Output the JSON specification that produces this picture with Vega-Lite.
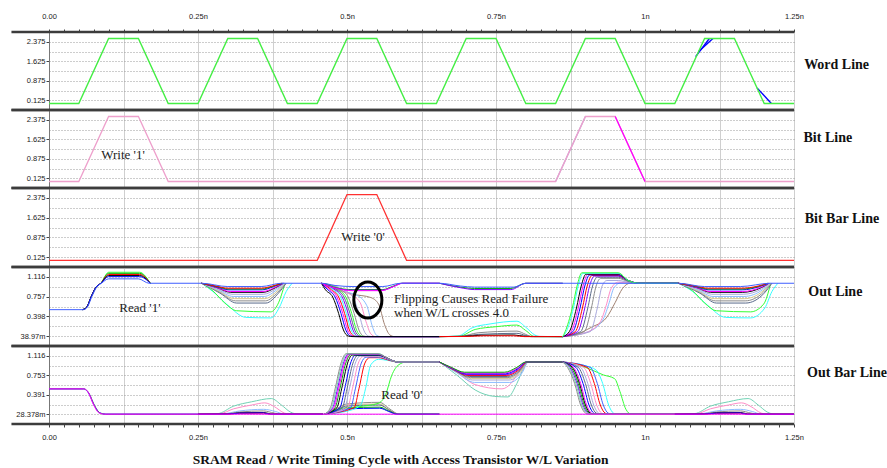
{
"$schema":"https://vega.github.io/schema/vega-lite/v6.json",
"padding":{"left":10,"top":12,"right":5,"bottom":5},
"background":"white",
"spacing":0,
"bounds":"flush",
"title":{"text":"SRAM Read / Write Timing Cycle with Access Transistor W/L Variation","orient":"bottom","anchor":"middle","font":"Liberation Serif","fontSize":13.5,"fontWeight":"bold","color":"#111","offset":12,"dx":-48},
"config":{
 "view":{"stroke":null},
 "axis":{"labelFont":"Liberation Sans","labelFontSize":7.5,"labelColor":"#1a1a1a","labelOverlap":false,"labelFlush":false,"tickColor":"#444","domainColor":"#777"},
 "axisY":{"tickSize":3,"labelPadding":1,"gridDash":[1,2],"gridColor":"#9a9a9a","domain":true},
 "axisX":{"gridColor":"#cfcfcf"}
},
"datasets":{
"wl":[
{"r":"a","w":1,"t":1.085,"v":1.8},{"r":"a","w":1,"t":1.108,"v":2.5},
{"r":"a","w":2,"t":1.09,"v":2.0},{"r":"a","w":2,"t":1.114,"v":2.5},
{"r":"a","w":3,"t":1.188,"v":0.6},{"r":"a","w":3,"t":1.212,"v":0},
{"r":"w","w":0,"t":0,"v":0},{"r":"w","w":0,"t":0.05,"v":0},{"r":"w","w":0,"t":0.1,"v":2.5},{"r":"w","w":0,"t":0.15,"v":2.5},{"r":"w","w":0,"t":0.2,"v":0},{"r":"w","w":0,"t":0.25,"v":0},{"r":"w","w":0,"t":0.3,"v":2.5},{"r":"w","w":0,"t":0.35,"v":2.5},{"r":"w","w":0,"t":0.4,"v":0},{"r":"w","w":0,"t":0.45,"v":0},{"r":"w","w":0,"t":0.5,"v":2.5},{"r":"w","w":0,"t":0.55,"v":2.5},{"r":"w","w":0,"t":0.6,"v":0},{"r":"w","w":0,"t":0.65,"v":0},{"r":"w","w":0,"t":0.7,"v":2.5},{"r":"w","w":0,"t":0.75,"v":2.5},{"r":"w","w":0,"t":0.8,"v":0},{"r":"w","w":0,"t":0.85,"v":0},{"r":"w","w":0,"t":0.9,"v":2.5},{"r":"w","w":0,"t":0.95,"v":2.5},{"r":"w","w":0,"t":1.0,"v":0},{"r":"w","w":0,"t":1.05,"v":0},{"r":"w","w":0,"t":1.1,"v":2.5},{"r":"w","w":0,"t":1.15,"v":2.5},{"r":"w","w":0,"t":1.2,"v":0},{"r":"w","w":0,"t":1.25,"v":0}
],
"bl":[
{"r":"h","w":1,"t":0.85,"v":0},{"r":"h","w":1,"t":0.9,"v":2.5},
{"r":"s","w":0,"t":0,"v":0},{"r":"s","w":0,"t":0.05,"v":0},{"r":"s","w":0,"t":0.1,"v":2.5},{"r":"s","w":0,"t":0.15,"v":2.5},{"r":"s","w":0,"t":0.2,"v":0},{"r":"s","w":0,"t":0.85,"v":0},{"r":"s","w":0,"t":0.9,"v":2.5},{"r":"s","w":0,"t":0.95,"v":2.5},{"r":"s","w":0,"t":1.0,"v":0},{"r":"s","w":0,"t":1.25,"v":0},
{"r":"d","w":2,"t":0.95,"v":2.5},{"r":"d","w":2,"t":1.0,"v":0}
],
"blb":[
{"r":"u","w":0,"t":0,"v":0},{"r":"u","w":0,"t":0.45,"v":0},{"r":"u","w":0,"t":0.5,"v":2.5},{"r":"u","w":0,"t":0.55,"v":2.5},{"r":"u","w":0,"t":0.6,"v":0},{"r":"u","w":0,"t":1.25,"v":0}
],
"out":[
{"r":"k","w":1,"t":0.056,"v":0.52},{"r":"k","w":1,"t":0.063,"v":0.56},{"r":"k","w":1,"t":0.071,"v":0.76},{"r":"k","w":1,"t":0.079,"v":0.93},{"r":"k","w":1,"t":0.087,"v":1},{"r":"k","w":1,"t":0.1,"v":1.2},{"r":"k","w":1,"t":0.152,"v":1.2},{"r":"k","w":1,"t":0.17,"v":1},
{"r":"b","w":1,"t":0.056,"v":0.52},{"r":"b","w":1,"t":0.063,"v":0.56},{"r":"b","w":1,"t":0.071,"v":0.76},{"r":"b","w":1,"t":0.079,"v":0.93},{"r":"b","w":1,"t":0.087,"v":1},{"r":"b","w":1,"t":0.1,"v":1.18},{"r":"b","w":1,"t":0.152,"v":1.18},{"r":"b","w":1,"t":0.17,"v":1},
{"r":"c","w":1,"t":0.056,"v":0.52},{"r":"c","w":1,"t":0.063,"v":0.56},{"r":"c","w":1,"t":0.071,"v":0.76},{"r":"c","w":1,"t":0.079,"v":0.93},{"r":"c","w":1,"t":0.087,"v":1},{"r":"c","w":1,"t":0.1,"v":1.16},{"r":"c","w":1,"t":0.152,"v":1.16},{"r":"c","w":1,"t":0.17,"v":1},
{"r":"f","w":1,"t":0.056,"v":0.52},{"r":"f","w":1,"t":0.063,"v":0.56},{"r":"f","w":1,"t":0.071,"v":0.76},{"r":"f","w":1,"t":0.079,"v":0.93},{"r":"f","w":1,"t":0.087,"v":1},{"r":"f","w":1,"t":0.1,"v":1.14},{"r":"f","w":1,"t":0.152,"v":1.14},{"r":"f","w":1,"t":0.17,"v":1},
{"r":"a","w":1,"t":0.056,"v":0.52},{"r":"a","w":1,"t":0.063,"v":0.56},{"r":"a","w":1,"t":0.071,"v":0.76},{"r":"a","w":1,"t":0.079,"v":0.93},{"r":"a","w":1,"t":0.087,"v":1},{"r":"a","w":1,"t":0.1,"v":1.12},{"r":"a","w":1,"t":0.152,"v":1.12},{"r":"a","w":1,"t":0.17,"v":1},

{"r":"l","w":2,"t":0.256,"v":1},{"r":"l","w":2,"t":0.275,"v":0.85},{"r":"l","w":2,"t":0.3,"v":0.6},{"r":"l","w":2,"t":0.33,"v":0.38},{"r":"l","w":2,"t":0.372,"v":0.37},{"r":"l","w":2,"t":0.386,"v":0.55},{"r":"l","w":2,"t":0.398,"v":0.85},{"r":"l","w":2,"t":0.408,"v":1},
{"r":"k","w":2,"t":0.256,"v":1},{"r":"k","w":2,"t":0.275,"v":0.86},{"r":"k","w":2,"t":0.295,"v":0.64},{"r":"k","w":2,"t":0.315,"v":0.5},{"r":"k","w":2,"t":0.372,"v":0.48},{"r":"k","w":2,"t":0.384,"v":0.62},{"r":"k","w":2,"t":0.396,"v":1},
{"r":"j","w":2,"t":0.256,"v":1},{"r":"j","w":2,"t":0.287,"v":0.82},{"r":"j","w":2,"t":0.315,"v":0.64},{"r":"j","w":2,"t":0.364,"v":0.64},{"r":"j","w":2,"t":0.385,"v":0.82},{"r":"j","w":2,"t":0.398,"v":1},
{"r":"g","w":2,"t":0.256,"v":1},{"r":"g","w":2,"t":0.286,"v":0.84},{"r":"g","w":2,"t":0.313,"v":0.68},{"r":"g","w":2,"t":0.363,"v":0.68},{"r":"g","w":2,"t":0.384,"v":0.84},{"r":"g","w":2,"t":0.397,"v":1},
{"r":"i","w":2,"t":0.256,"v":1},{"r":"i","w":2,"t":0.285,"v":0.86},{"r":"i","w":2,"t":0.311,"v":0.72},{"r":"i","w":2,"t":0.362,"v":0.72},{"r":"i","w":2,"t":0.383,"v":0.86},{"r":"i","w":2,"t":0.396,"v":1},
{"r":"p","w":2,"t":0.256,"v":1},{"r":"p","w":2,"t":0.284,"v":0.88},{"r":"p","w":2,"t":0.309,"v":0.76},{"r":"p","w":2,"t":0.361,"v":0.76},{"r":"p","w":2,"t":0.382,"v":0.88},{"r":"p","w":2,"t":0.395,"v":1},
{"r":"h","w":2,"t":0.256,"v":1},{"r":"h","w":2,"t":0.283,"v":0.9},{"r":"h","w":2,"t":0.307,"v":0.8},{"r":"h","w":2,"t":0.36,"v":0.8},{"r":"h","w":2,"t":0.381,"v":0.9},{"r":"h","w":2,"t":0.394,"v":1},
{"r":"f","w":2,"t":0.256,"v":1},{"r":"f","w":2,"t":0.282,"v":0.92},{"r":"f","w":2,"t":0.305,"v":0.835},{"r":"f","w":2,"t":0.359,"v":0.835},{"r":"f","w":2,"t":0.38,"v":0.92},{"r":"f","w":2,"t":0.393,"v":1},
{"r":"d","w":2,"t":0.256,"v":1},{"r":"d","w":2,"t":0.281,"v":0.925},{"r":"d","w":2,"t":0.304,"v":0.85},{"r":"d","w":2,"t":0.359,"v":0.85},{"r":"d","w":2,"t":0.379,"v":0.925},{"r":"d","w":2,"t":0.393,"v":1},
{"r":"a","w":2,"t":0.256,"v":1},{"r":"a","w":2,"t":0.28,"v":0.94},{"r":"a","w":2,"t":0.302,"v":0.88},{"r":"a","w":2,"t":0.358,"v":0.88},{"r":"a","w":2,"t":0.377,"v":0.94},{"r":"a","w":2,"t":0.392,"v":1},
{"r":"b","w":2,"t":0.256,"v":1},{"r":"b","w":2,"t":0.28,"v":0.945},{"r":"b","w":2,"t":0.301,"v":0.895},{"r":"b","w":2,"t":0.357,"v":0.895},{"r":"b","w":2,"t":0.376,"v":0.945},{"r":"b","w":2,"t":0.391,"v":1},
{"r":"c","w":2,"t":0.256,"v":1},{"r":"c","w":2,"t":0.28,"v":0.95},{"r":"c","w":2,"t":0.3,"v":0.91},{"r":"c","w":2,"t":0.356,"v":0.91},{"r":"c","w":2,"t":0.375,"v":0.95},{"r":"c","w":2,"t":0.39,"v":1},

{"r":"m","w":3,"t":0.457,"v":1},{"r":"m","w":3,"t":0.48,"v":0.9},{"r":"m","w":3,"t":0.51,"v":0.8},{"r":"m","w":3,"t":0.54,"v":0.74},{"r":"m","w":3,"t":0.553,"v":0.62},{"r":"m","w":3,"t":0.563,"v":0.25},{"r":"m","w":3,"t":0.572,"v":0.06},{"r":"m","w":3,"t":0.58,"v":0.03},{"r":"m","w":3,"t":0.655,"v":0.03},
{"r":"p","w":3,"t":0.457,"v":1},{"r":"p","w":3,"t":0.48,"v":0.88},{"r":"p","w":3,"t":0.515,"v":0.79},{"r":"p","w":3,"t":0.533,"v":0.6},{"r":"p","w":3,"t":0.543,"v":0.2},{"r":"p","w":3,"t":0.55,"v":0.05},{"r":"p","w":3,"t":0.557,"v":0.03},{"r":"p","w":3,"t":0.655,"v":0.03},
{"r":"n","w":3,"t":0.457,"v":1},{"r":"n","w":3,"t":0.475,"v":0.9},{"r":"n","w":3,"t":0.505,"v":0.8},{"r":"n","w":3,"t":0.522,"v":0.65},{"r":"n","w":3,"t":0.532,"v":0.3},{"r":"n","w":3,"t":0.54,"v":0.08},{"r":"n","w":3,"t":0.548,"v":0.03},{"r":"n","w":3,"t":0.655,"v":0.03},
{"r":"h","w":3,"t":0.457,"v":1},{"r":"h","w":3,"t":0.498,"v":0.86},{"r":"h","w":3,"t":0.51,"v":0.75},{"r":"h","w":3,"t":0.52,"v":0.45},{"r":"h","w":3,"t":0.528,"v":0.15},{"r":"h","w":3,"t":0.536,"v":0.04},{"r":"h","w":3,"t":0.544,"v":0.03},{"r":"h","w":3,"t":0.655,"v":0.03},
{"r":"g","w":3,"t":0.457,"v":1},{"r":"g","w":3,"t":0.49,"v":0.88},{"r":"g","w":3,"t":0.502,"v":0.75},{"r":"g","w":3,"t":0.512,"v":0.45},{"r":"g","w":3,"t":0.52,"v":0.15},{"r":"g","w":3,"t":0.528,"v":0.04},{"r":"g","w":3,"t":0.536,"v":0.03},{"r":"g","w":3,"t":0.655,"v":0.03},
{"r":"k","w":3,"t":0.457,"v":1},{"r":"k","w":3,"t":0.486,"v":0.88},{"r":"k","w":3,"t":0.498,"v":0.75},{"r":"k","w":3,"t":0.508,"v":0.45},{"r":"k","w":3,"t":0.516,"v":0.15},{"r":"k","w":3,"t":0.524,"v":0.04},{"r":"k","w":3,"t":0.532,"v":0.03},{"r":"k","w":3,"t":0.655,"v":0.03},
{"r":"j","w":3,"t":0.457,"v":1},{"r":"j","w":3,"t":0.483,"v":0.88},{"r":"j","w":3,"t":0.495,"v":0.75},{"r":"j","w":3,"t":0.505,"v":0.45},{"r":"j","w":3,"t":0.513,"v":0.15},{"r":"j","w":3,"t":0.521,"v":0.04},{"r":"j","w":3,"t":0.529,"v":0.03},{"r":"j","w":3,"t":0.655,"v":0.03},
{"r":"e","w":3,"t":0.457,"v":1},{"r":"e","w":3,"t":0.48,"v":0.88},{"r":"e","w":3,"t":0.492,"v":0.75},{"r":"e","w":3,"t":0.502,"v":0.45},{"r":"e","w":3,"t":0.51,"v":0.15},{"r":"e","w":3,"t":0.518,"v":0.04},{"r":"e","w":3,"t":0.526,"v":0.03},{"r":"e","w":3,"t":0.655,"v":0.03},
{"r":"l","w":3,"t":0.457,"v":1},{"r":"l","w":3,"t":0.477,"v":0.88},{"r":"l","w":3,"t":0.489,"v":0.75},{"r":"l","w":3,"t":0.499,"v":0.45},{"r":"l","w":3,"t":0.507,"v":0.15},{"r":"l","w":3,"t":0.515,"v":0.04},{"r":"l","w":3,"t":0.523,"v":0.03},{"r":"l","w":3,"t":0.655,"v":0.03},
{"r":"c","w":3,"t":0.457,"v":1},{"r":"c","w":3,"t":0.474,"v":0.88},{"r":"c","w":3,"t":0.486,"v":0.75},{"r":"c","w":3,"t":0.496,"v":0.45},{"r":"c","w":3,"t":0.504,"v":0.15},{"r":"c","w":3,"t":0.512,"v":0.04},{"r":"c","w":3,"t":0.52,"v":0.03},{"r":"c","w":3,"t":0.655,"v":0.03},
{"r":"d","w":3,"t":0.457,"v":1},{"r":"d","w":3,"t":0.471,"v":0.88},{"r":"d","w":3,"t":0.483,"v":0.75},{"r":"d","w":3,"t":0.493,"v":0.45},{"r":"d","w":3,"t":0.501,"v":0.15},{"r":"d","w":3,"t":0.509,"v":0.04},{"r":"d","w":3,"t":0.517,"v":0.03},{"r":"d","w":3,"t":0.655,"v":0.03},
{"r":"a","w":3,"t":0.457,"v":1},{"r":"a","w":3,"t":0.468,"v":0.88},{"r":"a","w":3,"t":0.48,"v":0.75},{"r":"a","w":3,"t":0.49,"v":0.45},{"r":"a","w":3,"t":0.498,"v":0.15},{"r":"a","w":3,"t":0.506,"v":0.04},{"r":"a","w":3,"t":0.514,"v":0.03},{"r":"a","w":3,"t":0.655,"v":0.03},
{"r":"f","w":3,"t":0.457,"v":1},{"r":"f","w":3,"t":0.464,"v":0.88},{"r":"f","w":3,"t":0.476,"v":0.75},{"r":"f","w":3,"t":0.486,"v":0.45},{"r":"f","w":3,"t":0.494,"v":0.15},{"r":"f","w":3,"t":0.502,"v":0.04},{"r":"f","w":3,"t":0.51,"v":0.03},{"r":"f","w":3,"t":0.655,"v":0.03},
{"r":"b","w":7,"t":0.457,"v":1},{"r":"b","w":7,"t":0.48,"v":0.92},{"r":"b","w":7,"t":0.51,"v":0.885},{"r":"b","w":7,"t":0.56,"v":0.885},{"r":"b","w":7,"t":0.578,"v":0.95},{"r":"b","w":7,"t":0.592,"v":1},{"r":"b","w":7,"t":0.655,"v":1},
{"r":"e","w":7,"t":0.457,"v":1},{"r":"e","w":7,"t":0.48,"v":0.915},{"r":"e","w":7,"t":0.51,"v":0.875},{"r":"e","w":7,"t":0.56,"v":0.875},{"r":"e","w":7,"t":0.579,"v":0.945},{"r":"e","w":7,"t":0.593,"v":1},{"r":"e","w":7,"t":0.655,"v":1},
{"r":"d","w":7,"t":0.457,"v":1},{"r":"d","w":7,"t":0.48,"v":0.91},{"r":"d","w":7,"t":0.51,"v":0.865},{"r":"d","w":7,"t":0.558,"v":0.865},{"r":"d","w":7,"t":0.578,"v":0.94},{"r":"d","w":7,"t":0.594,"v":1},{"r":"d","w":7,"t":0.655,"v":1},

{"r":"l","w":4,"t":0.655,"v":0.03},{"r":"l","w":4,"t":0.686,"v":0.04},{"r":"l","w":4,"t":0.71,"v":0.19},{"r":"l","w":4,"t":0.74,"v":0.26},{"r":"l","w":4,"t":0.785,"v":0.31},{"r":"l","w":4,"t":0.8,"v":0.2},{"r":"l","w":4,"t":0.815,"v":0.06},{"r":"l","w":4,"t":0.825,"v":0.03},{"r":"l","w":4,"t":0.862,"v":0.03},
{"r":"k","w":4,"t":0.655,"v":0.03},{"r":"k","w":4,"t":0.688,"v":0.035},{"r":"k","w":4,"t":0.715,"v":0.16},{"r":"k","w":4,"t":0.75,"v":0.21},{"r":"k","w":4,"t":0.785,"v":0.24},{"r":"k","w":4,"t":0.8,"v":0.14},{"r":"k","w":4,"t":0.815,"v":0.03},{"r":"k","w":4,"t":0.862,"v":0.03},
{"r":"g","w":4,"t":0.655,"v":0.03},{"r":"g","w":4,"t":0.69,"v":0.035},{"r":"g","w":4,"t":0.72,"v":0.1},{"r":"g","w":4,"t":0.785,"v":0.13},{"r":"g","w":4,"t":0.8,"v":0.07},{"r":"g","w":4,"t":0.81,"v":0.03},{"r":"g","w":4,"t":0.862,"v":0.03},
{"r":"j","w":4,"t":0.655,"v":0.03},{"r":"j","w":4,"t":0.692,"v":0.035},{"r":"j","w":4,"t":0.72,"v":0.07},{"r":"j","w":4,"t":0.785,"v":0.09},{"r":"j","w":4,"t":0.8,"v":0.05},{"r":"j","w":4,"t":0.808,"v":0.03},{"r":"j","w":4,"t":0.862,"v":0.03},
{"r":"f","w":4,"t":0.655,"v":0.03},{"r":"f","w":4,"t":0.695,"v":0.035},{"r":"f","w":4,"t":0.725,"v":0.055},{"r":"f","w":4,"t":0.78,"v":0.06},{"r":"f","w":4,"t":0.8,"v":0.035},{"r":"f","w":4,"t":0.862,"v":0.03},
{"r":"c","w":4,"t":0.655,"v":0.03},{"r":"c","w":4,"t":0.7,"v":0.033},{"r":"c","w":4,"t":0.73,"v":0.045},{"r":"c","w":4,"t":0.78,"v":0.045},{"r":"c","w":4,"t":0.798,"v":0.03},{"r":"c","w":4,"t":0.862,"v":0.03},
{"r":"b","w":8,"t":0.655,"v":1},{"r":"b","w":8,"t":0.69,"v":0.93},{"r":"b","w":8,"t":0.714,"v":0.905},{"r":"b","w":8,"t":0.775,"v":0.905},{"r":"b","w":8,"t":0.8,"v":1},{"r":"b","w":8,"t":0.862,"v":1},
{"r":"e","w":8,"t":0.655,"v":1},{"r":"e","w":8,"t":0.69,"v":0.92},{"r":"e","w":8,"t":0.714,"v":0.885},{"r":"e","w":8,"t":0.775,"v":0.885},{"r":"e","w":8,"t":0.8,"v":1},{"r":"e","w":8,"t":0.862,"v":1},

{"r":"m","w":5,"t":0.862,"v":0.03},{"r":"m","w":5,"t":0.882,"v":0.06},{"r":"m","w":5,"t":0.91,"v":0.2},{"r":"m","w":5,"t":0.935,"v":0.37},{"r":"m","w":5,"t":0.95,"v":0.65},{"r":"m","w":5,"t":0.962,"v":0.9},{"r":"m","w":5,"t":0.975,"v":1},{"r":"m","w":5,"t":1.056,"v":1},
{"r":"p","w":5,"t":0.862,"v":0.03},{"r":"p","w":5,"t":0.905,"v":0.12},{"r":"p","w":5,"t":0.93,"v":0.35},{"r":"p","w":5,"t":0.94,"v":0.65},{"r":"p","w":5,"t":0.948,"v":0.92},{"r":"p","w":5,"t":0.96,"v":1.01},{"r":"p","w":5,"t":0.99,"v":1},{"r":"p","w":5,"t":1.056,"v":1},
{"r":"n","w":5,"t":0.862,"v":0.03},{"r":"n","w":5,"t":0.9,"v":0.1},{"r":"n","w":5,"t":0.925,"v":0.3},{"r":"n","w":5,"t":0.935,"v":0.6},{"r":"n","w":5,"t":0.943,"v":0.9},{"r":"n","w":5,"t":0.955,"v":1.02},{"r":"n","w":5,"t":0.975,"v":1.01},{"r":"n","w":5,"t":0.99,"v":1},{"r":"n","w":5,"t":1.056,"v":1},
{"r":"h","w":5,"t":0.862,"v":0.03},{"r":"h","w":5,"t":0.908,"v":0.12},{"r":"h","w":5,"t":0.92,"v":0.55},{"r":"h","w":5,"t":0.928,"v":0.95},{"r":"h","w":5,"t":0.936,"v":1.05},{"r":"h","w":5,"t":0.955,"v":1.05},{"r":"h","w":5,"t":0.975,"v":1.01},{"r":"h","w":5,"t":0.99,"v":1},{"r":"h","w":5,"t":1.056,"v":1},
{"r":"g","w":5,"t":0.862,"v":0.03},{"r":"g","w":5,"t":0.898,"v":0.12},{"r":"g","w":5,"t":0.91,"v":0.55},{"r":"g","w":5,"t":0.918,"v":0.95},{"r":"g","w":5,"t":0.926,"v":1.09},{"r":"g","w":5,"t":0.955,"v":1.09},{"r":"g","w":5,"t":0.972,"v":1.03},{"r":"g","w":5,"t":0.99,"v":1},{"r":"g","w":5,"t":1.056,"v":1},
{"r":"j","w":5,"t":0.862,"v":0.03},{"r":"j","w":5,"t":0.892,"v":0.12},{"r":"j","w":5,"t":0.904,"v":0.55},{"r":"j","w":5,"t":0.912,"v":0.95},{"r":"j","w":5,"t":0.92,"v":1.11},{"r":"j","w":5,"t":0.955,"v":1.11},{"r":"j","w":5,"t":0.972,"v":1.04},{"r":"j","w":5,"t":0.99,"v":1},{"r":"j","w":5,"t":1.056,"v":1},
{"r":"e","w":5,"t":0.862,"v":0.03},{"r":"e","w":5,"t":0.887,"v":0.12},{"r":"e","w":5,"t":0.899,"v":0.55},{"r":"e","w":5,"t":0.907,"v":0.95},{"r":"e","w":5,"t":0.915,"v":1.13},{"r":"e","w":5,"t":0.955,"v":1.13},{"r":"e","w":5,"t":0.972,"v":1.05},{"r":"e","w":5,"t":0.99,"v":1},{"r":"e","w":5,"t":1.056,"v":1},
{"r":"c","w":5,"t":0.862,"v":0.03},{"r":"c","w":5,"t":0.883,"v":0.12},{"r":"c","w":5,"t":0.895,"v":0.55},{"r":"c","w":5,"t":0.903,"v":0.95},{"r":"c","w":5,"t":0.911,"v":1.14},{"r":"c","w":5,"t":0.955,"v":1.14},{"r":"c","w":5,"t":0.972,"v":1.05},{"r":"c","w":5,"t":0.99,"v":1},{"r":"c","w":5,"t":1.056,"v":1},
{"r":"a","w":5,"t":0.862,"v":0.03},{"r":"a","w":5,"t":0.879,"v":0.12},{"r":"a","w":5,"t":0.891,"v":0.55},{"r":"a","w":5,"t":0.899,"v":0.95},{"r":"a","w":5,"t":0.907,"v":1.15},{"r":"a","w":5,"t":0.955,"v":1.15},{"r":"a","w":5,"t":0.972,"v":1.05},{"r":"a","w":5,"t":0.99,"v":1},{"r":"a","w":5,"t":1.056,"v":1},
{"r":"d","w":5,"t":0.862,"v":0.03},{"r":"d","w":5,"t":0.876,"v":0.12},{"r":"d","w":5,"t":0.888,"v":0.55},{"r":"d","w":5,"t":0.896,"v":0.95},{"r":"d","w":5,"t":0.904,"v":1.16},{"r":"d","w":5,"t":0.955,"v":1.16},{"r":"d","w":5,"t":0.972,"v":1.05},{"r":"d","w":5,"t":0.99,"v":1},{"r":"d","w":5,"t":1.056,"v":1},
{"r":"f","w":5,"t":0.862,"v":0.03},{"r":"f","w":5,"t":0.873,"v":0.12},{"r":"f","w":5,"t":0.885,"v":0.55},{"r":"f","w":5,"t":0.893,"v":0.95},{"r":"f","w":5,"t":0.901,"v":1.165},{"r":"f","w":5,"t":0.955,"v":1.165},{"r":"f","w":5,"t":0.972,"v":1.05},{"r":"f","w":5,"t":0.99,"v":1},{"r":"f","w":5,"t":1.056,"v":1},
{"r":"l","w":5,"t":0.862,"v":0.03},{"r":"l","w":5,"t":0.868,"v":0.12},{"r":"l","w":5,"t":0.88,"v":0.55},{"r":"l","w":5,"t":0.888,"v":0.95},{"r":"l","w":5,"t":0.896,"v":1.18},{"r":"l","w":5,"t":0.955,"v":1.18},{"r":"l","w":5,"t":0.972,"v":1.05},{"r":"l","w":5,"t":0.99,"v":1},{"r":"l","w":5,"t":1.056,"v":1},
{"r":"k","w":5,"t":0.862,"v":0.03},{"r":"k","w":5,"t":0.866,"v":0.12},{"r":"k","w":5,"t":0.878,"v":0.55},{"r":"k","w":5,"t":0.886,"v":0.95},{"r":"k","w":5,"t":0.894,"v":1.19},{"r":"k","w":5,"t":0.955,"v":1.19},{"r":"k","w":5,"t":0.972,"v":1.05},{"r":"k","w":5,"t":0.99,"v":1},{"r":"k","w":5,"t":1.056,"v":1},

{"r":"l","w":6,"t":1.056,"v":1},{"r":"l","w":6,"t":1.08,"v":0.85},{"r":"l","w":6,"t":1.105,"v":0.6},{"r":"l","w":6,"t":1.135,"v":0.38},{"r":"l","w":6,"t":1.177,"v":0.37},{"r":"l","w":6,"t":1.201,"v":0.55},{"r":"l","w":6,"t":1.213,"v":0.85},{"r":"l","w":6,"t":1.223,"v":1},
{"r":"k","w":6,"t":1.056,"v":1},{"r":"k","w":6,"t":1.08,"v":0.86},{"r":"k","w":6,"t":1.1,"v":0.64},{"r":"k","w":6,"t":1.12,"v":0.5},{"r":"k","w":6,"t":1.177,"v":0.48},{"r":"k","w":6,"t":1.199,"v":0.62},{"r":"k","w":6,"t":1.211,"v":1},
{"r":"j","w":6,"t":1.056,"v":1},{"r":"j","w":6,"t":1.092,"v":0.82},{"r":"j","w":6,"t":1.12,"v":0.64},{"r":"j","w":6,"t":1.169,"v":0.64},{"r":"j","w":6,"t":1.2,"v":0.82},{"r":"j","w":6,"t":1.213,"v":1},
{"r":"g","w":6,"t":1.056,"v":1},{"r":"g","w":6,"t":1.091,"v":0.84},{"r":"g","w":6,"t":1.118,"v":0.68},{"r":"g","w":6,"t":1.168,"v":0.68},{"r":"g","w":6,"t":1.199,"v":0.84},{"r":"g","w":6,"t":1.212,"v":1},
{"r":"i","w":6,"t":1.056,"v":1},{"r":"i","w":6,"t":1.09,"v":0.86},{"r":"i","w":6,"t":1.116,"v":0.72},{"r":"i","w":6,"t":1.167,"v":0.72},{"r":"i","w":6,"t":1.198,"v":0.86},{"r":"i","w":6,"t":1.211,"v":1},
{"r":"p","w":6,"t":1.056,"v":1},{"r":"p","w":6,"t":1.089,"v":0.88},{"r":"p","w":6,"t":1.114,"v":0.76},{"r":"p","w":6,"t":1.166,"v":0.76},{"r":"p","w":6,"t":1.197,"v":0.88},{"r":"p","w":6,"t":1.21,"v":1},
{"r":"h","w":6,"t":1.056,"v":1},{"r":"h","w":6,"t":1.088,"v":0.9},{"r":"h","w":6,"t":1.112,"v":0.8},{"r":"h","w":6,"t":1.165,"v":0.8},{"r":"h","w":6,"t":1.196,"v":0.9},{"r":"h","w":6,"t":1.209,"v":1},
{"r":"f","w":6,"t":1.056,"v":1},{"r":"f","w":6,"t":1.087,"v":0.92},{"r":"f","w":6,"t":1.11,"v":0.835},{"r":"f","w":6,"t":1.164,"v":0.835},{"r":"f","w":6,"t":1.195,"v":0.92},{"r":"f","w":6,"t":1.208,"v":1},
{"r":"d","w":6,"t":1.056,"v":1},{"r":"d","w":6,"t":1.086,"v":0.925},{"r":"d","w":6,"t":1.109,"v":0.85},{"r":"d","w":6,"t":1.164,"v":0.85},{"r":"d","w":6,"t":1.194,"v":0.925},{"r":"d","w":6,"t":1.208,"v":1},
{"r":"a","w":6,"t":1.056,"v":1},{"r":"a","w":6,"t":1.085,"v":0.94},{"r":"a","w":6,"t":1.107,"v":0.88},{"r":"a","w":6,"t":1.163,"v":0.88},{"r":"a","w":6,"t":1.192,"v":0.94},{"r":"a","w":6,"t":1.207,"v":1},
{"r":"b","w":6,"t":1.056,"v":1},{"r":"b","w":6,"t":1.085,"v":0.945},{"r":"b","w":6,"t":1.106,"v":0.895},{"r":"b","w":6,"t":1.162,"v":0.895},{"r":"b","w":6,"t":1.191,"v":0.945},{"r":"b","w":6,"t":1.206,"v":1},
{"r":"c","w":6,"t":1.056,"v":1},{"r":"c","w":6,"t":1.085,"v":0.95},{"r":"c","w":6,"t":1.105,"v":0.91},{"r":"c","w":6,"t":1.161,"v":0.91},{"r":"c","w":6,"t":1.19,"v":0.95},{"r":"c","w":6,"t":1.205,"v":1},

{"r":"q","w":0,"t":0,"v":0.52},{"r":"q","w":0,"t":0.058,"v":0.52},{"r":"q","w":0,"t":0.064,"v":0.56},{"r":"q","w":0,"t":0.072,"v":0.76},{"r":"q","w":0,"t":0.08,"v":0.93},{"r":"q","w":0,"t":0.088,"v":1},{"r":"q","w":0,"t":0.1,"v":1.08},{"r":"q","w":0,"t":0.15,"v":1.08},{"r":"q","w":0,"t":0.168,"v":1},{"r":"q","w":0,"t":0.256,"v":1},{"r":"q","w":0,"t":0.3,"v":0.94},{"r":"q","w":0,"t":0.356,"v":0.94},{"r":"q","w":0,"t":0.39,"v":1},{"r":"q","w":0,"t":0.457,"v":1},{"r":"q","w":0,"t":0.48,"v":0.96},{"r":"q","w":0,"t":0.51,"v":0.94},{"r":"q","w":0,"t":0.56,"v":0.94},{"r":"q","w":0,"t":0.59,"v":1},{"r":"q","w":0,"t":0.655,"v":1},{"r":"q","w":0,"t":0.69,"v":0.95},{"r":"q","w":0,"t":0.714,"v":0.93},{"r":"q","w":0,"t":0.78,"v":0.93},{"r":"q","w":0,"t":0.8,"v":1},{"r":"q","w":0,"t":1.056,"v":1},{"r":"q","w":0,"t":1.1,"v":0.94},{"r":"q","w":0,"t":1.16,"v":0.94},{"r":"q","w":0,"t":1.21,"v":1},{"r":"q","w":0,"t":1.25,"v":1}
],
"outb":[
{"r":"a","w":1,"t":0,"v":0.5},{"r":"a","w":1,"t":0.058,"v":0.5},{"r":"a","w":1,"t":0.066,"v":0.43},{"r":"a","w":1,"t":0.076,"v":0.19},{"r":"a","w":1,"t":0.085,"v":0.055},{"r":"a","w":1,"t":0.095,"v":0.03},{"r":"a","w":1,"t":0.25,"v":0.03},
{"r":"j","w":1,"t":0,"v":0.5},{"r":"j","w":1,"t":0.059,"v":0.5},{"r":"j","w":1,"t":0.067,"v":0.42},{"r":"j","w":1,"t":0.077,"v":0.18},{"r":"j","w":1,"t":0.086,"v":0.05},{"r":"j","w":1,"t":0.096,"v":0.03},{"r":"j","w":1,"t":0.25,"v":0.03},

{"r":"o","w":2,"t":0.25,"v":0.03},{"r":"o","w":2,"t":0.283,"v":0.04},{"r":"o","w":2,"t":0.31,"v":0.18},{"r":"o","w":2,"t":0.34,"v":0.26},{"r":"o","w":2,"t":0.373,"v":0.32},{"r":"o","w":2,"t":0.39,"v":0.2},{"r":"o","w":2,"t":0.405,"v":0.07},{"r":"o","w":2,"t":0.418,"v":0.03},{"r":"o","w":2,"t":0.46,"v":0.03},
{"r":"n","w":2,"t":0.25,"v":0.03},{"r":"n","w":2,"t":0.285,"v":0.035},{"r":"n","w":2,"t":0.31,"v":0.13},{"r":"n","w":2,"t":0.34,"v":0.2},{"r":"n","w":2,"t":0.362,"v":0.24},{"r":"n","w":2,"t":0.378,"v":0.17},{"r":"n","w":2,"t":0.395,"v":0.05},{"r":"n","w":2,"t":0.405,"v":0.03},{"r":"n","w":2,"t":0.46,"v":0.03},
{"r":"p","w":2,"t":0.25,"v":0.03},{"r":"p","w":2,"t":0.29,"v":0.035},{"r":"p","w":2,"t":0.32,"v":0.09},{"r":"p","w":2,"t":0.36,"v":0.12},{"r":"p","w":2,"t":0.38,"v":0.08},{"r":"p","w":2,"t":0.395,"v":0.03},{"r":"p","w":2,"t":0.46,"v":0.03},
{"r":"g","w":2,"t":0.25,"v":0.03},{"r":"g","w":2,"t":0.292,"v":0.033},{"r":"g","w":2,"t":0.32,"v":0.07},{"r":"g","w":2,"t":0.36,"v":0.09},{"r":"g","w":2,"t":0.378,"v":0.05},{"r":"g","w":2,"t":0.39,"v":0.03},{"r":"g","w":2,"t":0.46,"v":0.03},
{"r":"f","w":2,"t":0.25,"v":0.03},{"r":"f","w":2,"t":0.3,"v":0.033},{"r":"f","w":2,"t":0.32,"v":0.055},{"r":"f","w":2,"t":0.36,"v":0.06},{"r":"f","w":2,"t":0.372,"v":0.035},{"r":"f","w":2,"t":0.38,"v":0.03},{"r":"f","w":2,"t":0.46,"v":0.03},
{"r":"c","w":2,"t":0.25,"v":0.03},{"r":"c","w":2,"t":0.3,"v":0.032},{"r":"c","w":2,"t":0.32,"v":0.045},{"r":"c","w":2,"t":0.36,"v":0.05},{"r":"c","w":2,"t":0.37,"v":0.03},{"r":"c","w":2,"t":0.46,"v":0.03},
{"r":"a","w":2,"t":0.25,"v":0.03},{"r":"a","w":2,"t":0.3,"v":0.032},{"r":"a","w":2,"t":0.32,"v":0.05},{"r":"a","w":2,"t":0.36,"v":0.055},{"r":"a","w":2,"t":0.37,"v":0.03},{"r":"a","w":2,"t":0.46,"v":0.03},

{"r":"g","w":7,"t":0.462,"v":0.03},{"r":"g","w":7,"t":0.48,"v":0.12},{"r":"g","w":7,"t":0.5,"v":0.22},{"r":"g","w":7,"t":0.555,"v":0.25},{"r":"g","w":7,"t":0.57,"v":0.14},{"r":"g","w":7,"t":0.588,"v":0.03},{"r":"g","w":7,"t":0.655,"v":0.03},
{"r":"i","w":7,"t":0.462,"v":0.03},{"r":"i","w":7,"t":0.48,"v":0.11},{"r":"i","w":7,"t":0.5,"v":0.2},{"r":"i","w":7,"t":0.555,"v":0.22},{"r":"i","w":7,"t":0.57,"v":0.12},{"r":"i","w":7,"t":0.587,"v":0.03},{"r":"i","w":7,"t":0.655,"v":0.03},
{"r":"j","w":7,"t":0.462,"v":0.03},{"r":"j","w":7,"t":0.48,"v":0.1},{"r":"j","w":7,"t":0.5,"v":0.18},{"r":"j","w":7,"t":0.555,"v":0.2},{"r":"j","w":7,"t":0.57,"v":0.11},{"r":"j","w":7,"t":0.586,"v":0.03},{"r":"j","w":7,"t":0.655,"v":0.03},
{"r":"b","w":7,"t":0.462,"v":0.03},{"r":"b","w":7,"t":0.48,"v":0.09},{"r":"b","w":7,"t":0.5,"v":0.15},{"r":"b","w":7,"t":0.555,"v":0.16},{"r":"b","w":7,"t":0.57,"v":0.09},{"r":"b","w":7,"t":0.585,"v":0.03},{"r":"b","w":7,"t":0.655,"v":0.03},
{"r":"a","w":7,"t":0.462,"v":0.03},{"r":"a","w":7,"t":0.48,"v":0.08},{"r":"a","w":7,"t":0.5,"v":0.13},{"r":"a","w":7,"t":0.555,"v":0.14},{"r":"a","w":7,"t":0.57,"v":0.08},{"r":"a","w":7,"t":0.584,"v":0.03},{"r":"a","w":7,"t":0.655,"v":0.03},

{"r":"k","w":3,"t":0.462,"v":0.03},{"r":"k","w":3,"t":0.48,"v":0.1},{"r":"k","w":3,"t":0.52,"v":0.17},{"r":"k","w":3,"t":0.552,"v":0.23},{"r":"k","w":3,"t":0.565,"v":0.4},{"r":"k","w":3,"t":0.575,"v":0.75},{"r":"k","w":3,"t":0.587,"v":0.95},{"r":"k","w":3,"t":0.6,"v":1},{"r":"k","w":3,"t":0.655,"v":1},
{"r":"l","w":3,"t":0.462,"v":0.03},{"r":"l","w":3,"t":0.505,"v":0.1},{"r":"l","w":3,"t":0.523,"v":0.2},{"r":"l","w":3,"t":0.531,"v":0.5},{"r":"l","w":3,"t":0.54,"v":0.95},{"r":"l","w":3,"t":0.553,"v":1.05},{"r":"l","w":3,"t":0.568,"v":1.03},{"r":"l","w":3,"t":0.585,"v":1},{"r":"l","w":3,"t":0.655,"v":1},
{"r":"c","w":3,"t":0.462,"v":0.03},{"r":"c","w":3,"t":0.512,"v":0.15},{"r":"c","w":3,"t":0.52,"v":0.5},{"r":"c","w":3,"t":0.53,"v":0.98},{"r":"c","w":3,"t":0.538,"v":1.08},{"r":"c","w":3,"t":0.553,"v":1.08},{"r":"c","w":3,"t":0.568,"v":1.04},{"r":"c","w":3,"t":0.585,"v":1},{"r":"c","w":3,"t":0.655,"v":1},
{"r":"q","w":3,"t":0.462,"v":0.03},{"r":"q","w":3,"t":0.506,"v":0.15},{"r":"q","w":3,"t":0.514,"v":0.5},{"r":"q","w":3,"t":0.524,"v":0.98},{"r":"q","w":3,"t":0.532,"v":1.09},{"r":"q","w":3,"t":0.553,"v":1.09},{"r":"q","w":3,"t":0.568,"v":1.05},{"r":"q","w":3,"t":0.585,"v":1},{"r":"q","w":3,"t":0.655,"v":1},
{"r":"n","w":3,"t":0.462,"v":0.03},{"r":"n","w":3,"t":0.501,"v":0.15},{"r":"n","w":3,"t":0.509,"v":0.5},{"r":"n","w":3,"t":0.519,"v":0.98},{"r":"n","w":3,"t":0.527,"v":1.1},{"r":"n","w":3,"t":0.553,"v":1.1},{"r":"n","w":3,"t":0.568,"v":1.06},{"r":"n","w":3,"t":0.585,"v":1},{"r":"n","w":3,"t":0.655,"v":1},
{"r":"h","w":3,"t":0.462,"v":0.03},{"r":"h","w":3,"t":0.496,"v":0.15},{"r":"h","w":3,"t":0.504,"v":0.5},{"r":"h","w":3,"t":0.514,"v":0.98},{"r":"h","w":3,"t":0.522,"v":1.11},{"r":"h","w":3,"t":0.553,"v":1.11},{"r":"h","w":3,"t":0.568,"v":1.07},{"r":"h","w":3,"t":0.585,"v":1},{"r":"h","w":3,"t":0.655,"v":1},
{"r":"j","w":3,"t":0.462,"v":0.03},{"r":"j","w":3,"t":0.492,"v":0.15},{"r":"j","w":3,"t":0.5,"v":0.5},{"r":"j","w":3,"t":0.51,"v":0.98},{"r":"j","w":3,"t":0.518,"v":1.12},{"r":"j","w":3,"t":0.553,"v":1.12},{"r":"j","w":3,"t":0.568,"v":1.07},{"r":"j","w":3,"t":0.585,"v":1},{"r":"j","w":3,"t":0.655,"v":1},
{"r":"a","w":3,"t":0.462,"v":0.03},{"r":"a","w":3,"t":0.488,"v":0.15},{"r":"a","w":3,"t":0.496,"v":0.5},{"r":"a","w":3,"t":0.506,"v":0.98},{"r":"a","w":3,"t":0.514,"v":1.125},{"r":"a","w":3,"t":0.553,"v":1.125},{"r":"a","w":3,"t":0.568,"v":1.07},{"r":"a","w":3,"t":0.585,"v":1},{"r":"a","w":3,"t":0.655,"v":1},
{"r":"f","w":3,"t":0.462,"v":0.03},{"r":"f","w":3,"t":0.483,"v":0.15},{"r":"f","w":3,"t":0.491,"v":0.5},{"r":"f","w":3,"t":0.501,"v":0.98},{"r":"f","w":3,"t":0.509,"v":1.13},{"r":"f","w":3,"t":0.553,"v":1.13},{"r":"f","w":3,"t":0.568,"v":1.07},{"r":"f","w":3,"t":0.585,"v":1},{"r":"f","w":3,"t":0.655,"v":1},
{"r":"b","w":3,"t":0.462,"v":0.03},{"r":"b","w":3,"t":0.48,"v":0.15},{"r":"b","w":3,"t":0.488,"v":0.5},{"r":"b","w":3,"t":0.498,"v":0.98},{"r":"b","w":3,"t":0.506,"v":1.135},{"r":"b","w":3,"t":0.553,"v":1.135},{"r":"b","w":3,"t":0.568,"v":1.07},{"r":"b","w":3,"t":0.585,"v":1},{"r":"b","w":3,"t":0.655,"v":1},
{"r":"d","w":3,"t":0.462,"v":0.03},{"r":"d","w":3,"t":0.478,"v":0.15},{"r":"d","w":3,"t":0.486,"v":0.5},{"r":"d","w":3,"t":0.496,"v":0.98},{"r":"d","w":3,"t":0.504,"v":1.14},{"r":"d","w":3,"t":0.553,"v":1.14},{"r":"d","w":3,"t":0.568,"v":1.07},{"r":"d","w":3,"t":0.585,"v":1},{"r":"d","w":3,"t":0.655,"v":1},
{"r":"e","w":3,"t":0.462,"v":0.03},{"r":"e","w":3,"t":0.476,"v":0.15},{"r":"e","w":3,"t":0.484,"v":0.5},{"r":"e","w":3,"t":0.494,"v":0.98},{"r":"e","w":3,"t":0.502,"v":1.145},{"r":"e","w":3,"t":0.553,"v":1.145},{"r":"e","w":3,"t":0.568,"v":1.07},{"r":"e","w":3,"t":0.585,"v":1},{"r":"e","w":3,"t":0.655,"v":1},
{"r":"o","w":3,"t":0.462,"v":0.03},{"r":"o","w":3,"t":0.474,"v":0.15},{"r":"o","w":3,"t":0.482,"v":0.5},{"r":"o","w":3,"t":0.492,"v":0.98},{"r":"o","w":3,"t":0.5,"v":1.155},{"r":"o","w":3,"t":0.553,"v":1.155},{"r":"o","w":3,"t":0.568,"v":1.07},{"r":"o","w":3,"t":0.585,"v":1},{"r":"o","w":3,"t":0.655,"v":1},
{"r":"g","w":3,"t":0.462,"v":0.03},{"r":"g","w":3,"t":0.472,"v":0.15},{"r":"g","w":3,"t":0.48,"v":0.5},{"r":"g","w":3,"t":0.49,"v":0.98},{"r":"g","w":3,"t":0.498,"v":1.15},{"r":"g","w":3,"t":0.553,"v":1.15},{"r":"g","w":3,"t":0.568,"v":1.07},{"r":"g","w":3,"t":0.585,"v":1},{"r":"g","w":3,"t":0.655,"v":1},

{"r":"o","w":4,"t":0.655,"v":1},{"r":"o","w":4,"t":0.685,"v":0.75},{"r":"o","w":4,"t":0.715,"v":0.48},{"r":"o","w":4,"t":0.748,"v":0.36},{"r":"o","w":4,"t":0.77,"v":0.35},{"r":"o","w":4,"t":0.785,"v":0.6},{"r":"o","w":4,"t":0.797,"v":0.9},{"r":"o","w":4,"t":0.805,"v":1},{"r":"o","w":4,"t":0.862,"v":1},
{"r":"n","w":4,"t":0.655,"v":1},{"r":"n","w":4,"t":0.685,"v":0.8},{"r":"n","w":4,"t":0.715,"v":0.58},{"r":"n","w":4,"t":0.76,"v":0.5},{"r":"n","w":4,"t":0.775,"v":0.6},{"r":"n","w":4,"t":0.79,"v":0.85},{"r":"n","w":4,"t":0.802,"v":1},{"r":"n","w":4,"t":0.862,"v":1},
{"r":"p","w":4,"t":0.655,"v":1},{"r":"p","w":4,"t":0.684,"v":0.8},{"r":"p","w":4,"t":0.714,"v":0.62},{"r":"p","w":4,"t":0.773,"v":0.62},{"r":"p","w":4,"t":0.794,"v":0.8},{"r":"p","w":4,"t":0.804,"v":1},{"r":"p","w":4,"t":0.862,"v":1},
{"r":"h","w":4,"t":0.655,"v":1},{"r":"h","w":4,"t":0.683,"v":0.82},{"r":"h","w":4,"t":0.711,"v":0.665},{"r":"h","w":4,"t":0.772,"v":0.665},{"r":"h","w":4,"t":0.793,"v":0.82},{"r":"h","w":4,"t":0.804,"v":1},{"r":"h","w":4,"t":0.862,"v":1},
{"r":"i","w":4,"t":0.655,"v":1},{"r":"i","w":4,"t":0.682,"v":0.83},{"r":"i","w":4,"t":0.709,"v":0.69},{"r":"i","w":4,"t":0.771,"v":0.69},{"r":"i","w":4,"t":0.792,"v":0.83},{"r":"i","w":4,"t":0.803,"v":1},{"r":"i","w":4,"t":0.862,"v":1},
{"r":"g","w":4,"t":0.655,"v":1},{"r":"g","w":4,"t":0.681,"v":0.84},{"r":"g","w":4,"t":0.707,"v":0.71},{"r":"g","w":4,"t":0.77,"v":0.71},{"r":"g","w":4,"t":0.791,"v":0.84},{"r":"g","w":4,"t":0.803,"v":1},{"r":"g","w":4,"t":0.862,"v":1},
{"r":"j","w":4,"t":0.655,"v":1},{"r":"j","w":4,"t":0.68,"v":0.85},{"r":"j","w":4,"t":0.705,"v":0.73},{"r":"j","w":4,"t":0.769,"v":0.73},{"r":"j","w":4,"t":0.79,"v":0.85},{"r":"j","w":4,"t":0.802,"v":1},{"r":"j","w":4,"t":0.862,"v":1},
{"r":"c","w":4,"t":0.655,"v":1},{"r":"c","w":4,"t":0.679,"v":0.86},{"r":"c","w":4,"t":0.703,"v":0.75},{"r":"c","w":4,"t":0.768,"v":0.75},{"r":"c","w":4,"t":0.789,"v":0.86},{"r":"c","w":4,"t":0.802,"v":1},{"r":"c","w":4,"t":0.862,"v":1},
{"r":"e","w":4,"t":0.655,"v":1},{"r":"e","w":4,"t":0.678,"v":0.87},{"r":"e","w":4,"t":0.701,"v":0.765},{"r":"e","w":4,"t":0.767,"v":0.765},{"r":"e","w":4,"t":0.788,"v":0.87},{"r":"e","w":4,"t":0.801,"v":1},{"r":"e","w":4,"t":0.862,"v":1},
{"r":"a","w":4,"t":0.655,"v":1},{"r":"a","w":4,"t":0.677,"v":0.88},{"r":"a","w":4,"t":0.7,"v":0.78},{"r":"a","w":4,"t":0.766,"v":0.78},{"r":"a","w":4,"t":0.787,"v":0.88},{"r":"a","w":4,"t":0.801,"v":1},{"r":"a","w":4,"t":0.862,"v":1},
{"r":"d","w":4,"t":0.655,"v":1},{"r":"d","w":4,"t":0.676,"v":0.89},{"r":"d","w":4,"t":0.698,"v":0.795},{"r":"d","w":4,"t":0.765,"v":0.795},{"r":"d","w":4,"t":0.786,"v":0.89},{"r":"d","w":4,"t":0.8,"v":1},{"r":"d","w":4,"t":0.862,"v":1},
{"r":"b","w":4,"t":0.655,"v":1},{"r":"b","w":4,"t":0.675,"v":0.9},{"r":"b","w":4,"t":0.697,"v":0.81},{"r":"b","w":4,"t":0.764,"v":0.81},{"r":"b","w":4,"t":0.785,"v":0.9},{"r":"b","w":4,"t":0.8,"v":1},{"r":"b","w":4,"t":0.862,"v":1},

{"r":"k","w":5,"t":0.862,"v":1},{"r":"k","w":5,"t":0.9,"v":0.9},{"r":"k","w":5,"t":0.93,"v":0.76},{"r":"k","w":5,"t":0.949,"v":0.69},{"r":"k","w":5,"t":0.958,"v":0.45},{"r":"k","w":5,"t":0.968,"v":0.12},{"r":"k","w":5,"t":0.977,"v":0.03},{"r":"k","w":5,"t":1.05,"v":0.03},
{"r":"l","w":5,"t":0.862,"v":1},{"r":"l","w":5,"t":0.9,"v":0.93},{"r":"l","w":5,"t":0.918,"v":0.85},{"r":"l","w":5,"t":0.929,"v":0.6},{"r":"l","w":5,"t":0.939,"v":0.2},{"r":"l","w":5,"t":0.947,"v":0.05},{"r":"l","w":5,"t":0.953,"v":0.03},{"r":"l","w":5,"t":1.05,"v":0.03},
{"r":"q","w":5,"t":0.862,"v":1},{"r":"q","w":5,"t":0.908,"v":0.9},{"r":"q","w":5,"t":0.92,"v":0.6},{"r":"q","w":5,"t":0.93,"v":0.2},{"r":"q","w":5,"t":0.938,"v":0.05},{"r":"q","w":5,"t":0.944,"v":0.03},{"r":"q","w":5,"t":1.05,"v":0.03},
{"r":"c","w":5,"t":0.862,"v":1},{"r":"c","w":5,"t":0.903,"v":0.9},{"r":"c","w":5,"t":0.915,"v":0.6},{"r":"c","w":5,"t":0.925,"v":0.2},{"r":"c","w":5,"t":0.933,"v":0.05},{"r":"c","w":5,"t":0.939,"v":0.03},{"r":"c","w":5,"t":1.05,"v":0.03},
{"r":"n","w":5,"t":0.862,"v":1},{"r":"n","w":5,"t":0.897,"v":0.9},{"r":"n","w":5,"t":0.909,"v":0.6},{"r":"n","w":5,"t":0.919,"v":0.2},{"r":"n","w":5,"t":0.927,"v":0.05},{"r":"n","w":5,"t":0.933,"v":0.03},{"r":"n","w":5,"t":1.05,"v":0.03},
{"r":"h","w":5,"t":0.862,"v":1},{"r":"h","w":5,"t":0.892,"v":0.9},{"r":"h","w":5,"t":0.904,"v":0.6},{"r":"h","w":5,"t":0.914,"v":0.2},{"r":"h","w":5,"t":0.922,"v":0.05},{"r":"h","w":5,"t":0.928,"v":0.03},{"r":"h","w":5,"t":1.05,"v":0.03},
{"r":"j","w":5,"t":0.862,"v":1},{"r":"j","w":5,"t":0.888,"v":0.9},{"r":"j","w":5,"t":0.9,"v":0.6},{"r":"j","w":5,"t":0.91,"v":0.2},{"r":"j","w":5,"t":0.918,"v":0.05},{"r":"j","w":5,"t":0.924,"v":0.03},{"r":"j","w":5,"t":1.05,"v":0.03},
{"r":"a","w":5,"t":0.862,"v":1},{"r":"a","w":5,"t":0.884,"v":0.9},{"r":"a","w":5,"t":0.896,"v":0.6},{"r":"a","w":5,"t":0.906,"v":0.2},{"r":"a","w":5,"t":0.914,"v":0.05},{"r":"a","w":5,"t":0.92,"v":0.03},{"r":"a","w":5,"t":1.05,"v":0.03},
{"r":"d","w":5,"t":0.862,"v":1},{"r":"d","w":5,"t":0.88,"v":0.9},{"r":"d","w":5,"t":0.892,"v":0.6},{"r":"d","w":5,"t":0.902,"v":0.2},{"r":"d","w":5,"t":0.91,"v":0.05},{"r":"d","w":5,"t":0.916,"v":0.03},{"r":"d","w":5,"t":1.05,"v":0.03},
{"r":"f","w":5,"t":0.862,"v":1},{"r":"f","w":5,"t":0.878,"v":0.9},{"r":"f","w":5,"t":0.89,"v":0.6},{"r":"f","w":5,"t":0.9,"v":0.2},{"r":"f","w":5,"t":0.908,"v":0.05},{"r":"f","w":5,"t":0.914,"v":0.03},{"r":"f","w":5,"t":1.05,"v":0.03},
{"r":"b","w":5,"t":0.862,"v":1},{"r":"b","w":5,"t":0.876,"v":0.9},{"r":"b","w":5,"t":0.888,"v":0.6},{"r":"b","w":5,"t":0.898,"v":0.2},{"r":"b","w":5,"t":0.906,"v":0.05},{"r":"b","w":5,"t":0.912,"v":0.03},{"r":"b","w":5,"t":1.05,"v":0.03},
{"r":"e","w":5,"t":0.862,"v":1},{"r":"e","w":5,"t":0.874,"v":0.9},{"r":"e","w":5,"t":0.886,"v":0.6},{"r":"e","w":5,"t":0.896,"v":0.2},{"r":"e","w":5,"t":0.904,"v":0.05},{"r":"e","w":5,"t":0.91,"v":0.03},{"r":"e","w":5,"t":1.05,"v":0.03},
{"r":"o","w":5,"t":0.862,"v":1},{"r":"o","w":5,"t":0.872,"v":0.9},{"r":"o","w":5,"t":0.884,"v":0.6},{"r":"o","w":5,"t":0.894,"v":0.2},{"r":"o","w":5,"t":0.902,"v":0.05},{"r":"o","w":5,"t":0.908,"v":0.03},{"r":"o","w":5,"t":1.05,"v":0.03},
{"r":"g","w":5,"t":0.862,"v":1},{"r":"g","w":5,"t":0.87,"v":0.9},{"r":"g","w":5,"t":0.882,"v":0.6},{"r":"g","w":5,"t":0.892,"v":0.2},{"r":"g","w":5,"t":0.9,"v":0.05},{"r":"g","w":5,"t":0.906,"v":0.03},{"r":"g","w":5,"t":1.05,"v":0.03},

{"r":"o","w":6,"t":1.05,"v":0.03},{"r":"o","w":6,"t":1.083,"v":0.04},{"r":"o","w":6,"t":1.11,"v":0.18},{"r":"o","w":6,"t":1.14,"v":0.26},{"r":"o","w":6,"t":1.173,"v":0.32},{"r":"o","w":6,"t":1.19,"v":0.2},{"r":"o","w":6,"t":1.205,"v":0.07},{"r":"o","w":6,"t":1.218,"v":0.03},{"r":"o","w":6,"t":1.25,"v":0.03},
{"r":"n","w":6,"t":1.05,"v":0.03},{"r":"n","w":6,"t":1.085,"v":0.035},{"r":"n","w":6,"t":1.11,"v":0.13},{"r":"n","w":6,"t":1.14,"v":0.2},{"r":"n","w":6,"t":1.162,"v":0.24},{"r":"n","w":6,"t":1.178,"v":0.17},{"r":"n","w":6,"t":1.195,"v":0.05},{"r":"n","w":6,"t":1.205,"v":0.03},{"r":"n","w":6,"t":1.25,"v":0.03},
{"r":"p","w":6,"t":1.05,"v":0.03},{"r":"p","w":6,"t":1.09,"v":0.035},{"r":"p","w":6,"t":1.12,"v":0.09},{"r":"p","w":6,"t":1.16,"v":0.12},{"r":"p","w":6,"t":1.18,"v":0.08},{"r":"p","w":6,"t":1.195,"v":0.03},{"r":"p","w":6,"t":1.25,"v":0.03},
{"r":"g","w":6,"t":1.05,"v":0.03},{"r":"g","w":6,"t":1.092,"v":0.033},{"r":"g","w":6,"t":1.12,"v":0.07},{"r":"g","w":6,"t":1.16,"v":0.09},{"r":"g","w":6,"t":1.178,"v":0.05},{"r":"g","w":6,"t":1.19,"v":0.03},{"r":"g","w":6,"t":1.25,"v":0.03},
{"r":"f","w":6,"t":1.05,"v":0.03},{"r":"f","w":6,"t":1.1,"v":0.033},{"r":"f","w":6,"t":1.12,"v":0.055},{"r":"f","w":6,"t":1.16,"v":0.06},{"r":"f","w":6,"t":1.172,"v":0.035},{"r":"f","w":6,"t":1.18,"v":0.03},{"r":"f","w":6,"t":1.25,"v":0.03},
{"r":"c","w":6,"t":1.05,"v":0.03},{"r":"c","w":6,"t":1.1,"v":0.032},{"r":"c","w":6,"t":1.12,"v":0.045},{"r":"c","w":6,"t":1.16,"v":0.05},{"r":"c","w":6,"t":1.17,"v":0.03},{"r":"c","w":6,"t":1.25,"v":0.03},
{"r":"a","w":6,"t":1.05,"v":0.03},{"r":"a","w":6,"t":1.1,"v":0.032},{"r":"a","w":6,"t":1.12,"v":0.05},{"r":"a","w":6,"t":1.16,"v":0.055},{"r":"a","w":6,"t":1.17,"v":0.03},{"r":"a","w":6,"t":1.25,"v":0.03},

{"r":"x","w":0,"t":0,"v":0.5},{"r":"x","w":0,"t":0.058,"v":0.5},{"r":"x","w":0,"t":0.065,"v":0.45},{"r":"x","w":0,"t":0.075,"v":0.2},{"r":"x","w":0,"t":0.083,"v":0.06},{"r":"x","w":0,"t":0.092,"v":0.03},{"r":"x","w":0,"t":1.25,"v":0.03}
],
"notes":[
{"p":"WL","k":"side","t":1.267,"v":1.48,"label":"Word Line"},
{"p":"BL","k":"side","t":1.266,"v":1.67,"label":"Bit Line"},
{"p":"BLB","k":"side","t":1.268,"v":1.57,"label":"Bit Bar Line"},
{"p":"OUT","k":"side","t":1.274,"v":0.84,"label":"Out Line"},
{"p":"OUTB","k":"side","t":1.272,"v":0.795,"label":"Out Bar Line"},
{"p":"BL","k":"note","t":0.0877,"v":1.02,"label":"Write '1'"},
{"p":"BLB","k":"note","t":0.4904,"v":0.89,"label":"Write '0'"},
{"p":"OUT","k":"note","t":0.118,"v":0.55,"label":"Read '1'"},
{"p":"OUT","k":"note","t":0.579,"v":0.714,"label":"Flipping Causes Read Failure"},
{"p":"OUT","k":"note","t":0.579,"v":0.459,"label":"when W/L crosses 4.0"},
{"p":"OUTB","k":"note","t":0.5575,"v":0.386,"label":"Read '0'"},
{"p":"OUT","k":"ring","t":0.535,"v":0.695,"label":""}
]
},
"vconcat":[
{"width":745,"height":78,
 "layer":[
  {"data":{"name":"wl"},"mark":{"type":"line","strokeWidth":1.4},
   "encoding":{
    "x":{"field":"t","type":"quantitative","scale":{"domain":[0,1.25],"nice":false,"zero":false},
     "axis":{"orient":"top","title":null,"values":[0,0.025,0.05,0.075,0.1,0.125,0.15,0.175,0.2,0.225,0.25,0.275,0.3,0.325,0.35,0.375,0.4,0.425,0.45,0.475,0.5,0.525,0.55,0.575,0.6,0.625,0.65,0.675,0.7,0.725,0.75,0.775,0.8,0.825,0.85,0.875,0.9,0.925,0.95,0.975,1,1.025,1.05,1.075,1.1,1.125,1.15,1.175,1.2,1.225,1.25],
      "labelExpr":"abs(datum.value*4-round(datum.value*4))<0.001 ? (datum.value==0 ? '0.00' : toString(datum.value)+'n') : ''",
      "tickSize":3,"labelPadding":9,"domain":false,"grid":true,
      "gridOpacity":{"condition":{"test":"abs(datum.value*8-round(datum.value*8))<0.001","value":1},"value":0}}},
    "y":{"field":"v","type":"quantitative","scale":{"domain":[-0.25,2.75],"nice":false,"zero":false},
     "axis":{"title":null,"values":[-0.25,0.125,0.5,0.875,1.25,1.625,2,2.375,2.75],
      "labelExpr":"indexof([0.125,0.875,1.625,2.375],datum.value)>=0 ? format(datum.value,'.3f') : ''",
      "tickOpacity":{"condition":{"test":"indexof([0.125,0.875,1.625,2.375],datum.value)>=0","value":1},"value":0}}},
    "color":{"field":"r","type":"nominal","legend":null,"scale":{"domain":["a","b","c","d","e","f","g","h","i","j","k","l","m","n","o","p","q","s","u","w","x"],"range":["#0000ff","#00b000","#ff0000","#ff00ff","#8000ff","#000000","#8c8c8c","#a8a8dc","#d6c88c","#5a6a8a","#33ff33","#33ffff","#a08070","#ff8cc8","#70d2b4","#8cbcff","#3f5fff","#eea0cc","#ff3030","#44ee44","#ff00ff"]}},
    "detail":{"field":"w","type":"nominal"}}},
  {"data":{"values":[{}]},"mark":{"type":"rule","color":"#3c3c3c","strokeWidth":2.5},
   "encoding":{
    "x":{"datum":-0.063,"scale":{"domain":[0,1.25],"nice":false,"zero":false},
     "axis":{"orient":"top","title":null,"values":[0,0.025,0.05,0.075,0.1,0.125,0.15,0.175,0.2,0.225,0.25,0.275,0.3,0.325,0.35,0.375,0.4,0.425,0.45,0.475,0.5,0.525,0.55,0.575,0.6,0.625,0.65,0.675,0.7,0.725,0.75,0.775,0.8,0.825,0.85,0.875,0.9,0.925,0.95,0.975,1,1.025,1.05,1.075,1.1,1.125,1.15,1.175,1.2,1.225,1.25],
      "labelExpr":"abs(datum.value*4-round(datum.value*4))<0.001 ? (datum.value==0 ? '0.00' : toString(datum.value)+'n') : ''",
      "tickSize":3,"labelPadding":9,"domain":false,"grid":true,
      "gridOpacity":{"condition":{"test":"abs(datum.value*8-round(datum.value*8))<0.001","value":1},"value":0}}},
    "x2":{"datum":1.25},
    "y":{"datum":2.75,"scale":{"domain":[-0.25,2.75],"nice":false,"zero":false},
     "axis":{"title":null,"values":[-0.25,0.125,0.5,0.875,1.25,1.625,2,2.375,2.75],
      "labelExpr":"indexof([0.125,0.875,1.625,2.375],datum.value)>=0 ? format(datum.value,'.3f') : ''",
      "tickOpacity":{"condition":{"test":"indexof([0.125,0.875,1.625,2.375],datum.value)>=0","value":1},"value":0}}}}},
  {"data":{"values":[{}]},"mark":{"type":"rule","color":"#3c3c3c","strokeWidth":2.5},
   "encoding":{
    "x":{"datum":-0.063,"scale":{"domain":[0,1.25],"nice":false,"zero":false},
     "axis":{"orient":"top","title":null,"values":[0,0.025,0.05,0.075,0.1,0.125,0.15,0.175,0.2,0.225,0.25,0.275,0.3,0.325,0.35,0.375,0.4,0.425,0.45,0.475,0.5,0.525,0.55,0.575,0.6,0.625,0.65,0.675,0.7,0.725,0.75,0.775,0.8,0.825,0.85,0.875,0.9,0.925,0.95,0.975,1,1.025,1.05,1.075,1.1,1.125,1.15,1.175,1.2,1.225,1.25],
      "labelExpr":"abs(datum.value*4-round(datum.value*4))<0.001 ? (datum.value==0 ? '0.00' : toString(datum.value)+'n') : ''",
      "tickSize":3,"labelPadding":9,"domain":false,"grid":true,
      "gridOpacity":{"condition":{"test":"abs(datum.value*8-round(datum.value*8))<0.001","value":1},"value":0}}},
    "x2":{"datum":1.25},
    "y":{"datum":-0.25,"scale":{"domain":[-0.25,2.75],"nice":false,"zero":false},
     "axis":{"title":null,"values":[-0.25,0.125,0.5,0.875,1.25,1.625,2,2.375,2.75],
      "labelExpr":"indexof([0.125,0.875,1.625,2.375],datum.value)>=0 ? format(datum.value,'.3f') : ''",
      "tickOpacity":{"condition":{"test":"indexof([0.125,0.875,1.625,2.375],datum.value)>=0","value":1},"value":0}}}}},
  {"data":{"name":"notes"},"transform":[{"filter":"datum.p=='WL' && datum.k=='side'"}],
   "mark":{"type":"text","align":"left","baseline":"middle","font":"Liberation Serif","fontSize":14,"fontWeight":"bold","color":"#111"},
   "encoding":{
    "x":{"field":"t","type":"quantitative","scale":{"domain":[0,1.25],"nice":false,"zero":false},
     "axis":{"orient":"top","title":null,"values":[0,0.025,0.05,0.075,0.1,0.125,0.15,0.175,0.2,0.225,0.25,0.275,0.3,0.325,0.35,0.375,0.4,0.425,0.45,0.475,0.5,0.525,0.55,0.575,0.6,0.625,0.65,0.675,0.7,0.725,0.75,0.775,0.8,0.825,0.85,0.875,0.9,0.925,0.95,0.975,1,1.025,1.05,1.075,1.1,1.125,1.15,1.175,1.2,1.225,1.25],
      "labelExpr":"abs(datum.value*4-round(datum.value*4))<0.001 ? (datum.value==0 ? '0.00' : toString(datum.value)+'n') : ''",
      "tickSize":3,"labelPadding":9,"domain":false,"grid":true,
      "gridOpacity":{"condition":{"test":"abs(datum.value*8-round(datum.value*8))<0.001","value":1},"value":0}}},
    "y":{"field":"v","type":"quantitative","scale":{"domain":[-0.25,2.75],"nice":false,"zero":false},
     "axis":{"title":null,"values":[-0.25,0.125,0.5,0.875,1.25,1.625,2,2.375,2.75],
      "labelExpr":"indexof([0.125,0.875,1.625,2.375],datum.value)>=0 ? format(datum.value,'.3f') : ''",
      "tickOpacity":{"condition":{"test":"indexof([0.125,0.875,1.625,2.375],datum.value)>=0","value":1},"value":0}}},
    "text":{"field":"label"}}}
 ]},
{"width":745,"height":78,
 "layer":[
  {"data":{"name":"bl"},"mark":{"type":"line","strokeWidth":1.3},
   "encoding":{
    "x":{"field":"t","type":"quantitative","scale":{"domain":[0,1.25],"nice":false,"zero":false},
     "axis":{"title":null,"values":[0,0.125,0.25,0.375,0.5,0.625,0.75,0.875,1,1.125,1.25],"labels":false,"ticks":false,"domain":false,"grid":true}},
    "y":{"field":"v","type":"quantitative","scale":{"domain":[-0.25,2.75],"nice":false,"zero":false},
     "axis":{"title":null,"values":[-0.25,0.125,0.5,0.875,1.25,1.625,2,2.375,2.75],
      "labelExpr":"indexof([0.125,0.875,1.625,2.375],datum.value)>=0 ? format(datum.value,'.3f') : ''",
      "tickOpacity":{"condition":{"test":"indexof([0.125,0.875,1.625,2.375],datum.value)>=0","value":1},"value":0}}},
    "color":{"field":"r","type":"nominal","legend":null},
    "detail":{"field":"w","type":"nominal"}}},
  {"data":{"values":[{}]},"mark":{"type":"rule","color":"#3c3c3c","strokeWidth":2.5},
   "encoding":{
    "x":{"datum":-0.063,"scale":{"domain":[0,1.25],"nice":false,"zero":false},
     "axis":{"title":null,"values":[0,0.125,0.25,0.375,0.5,0.625,0.75,0.875,1,1.125,1.25],"labels":false,"ticks":false,"domain":false,"grid":true}},
    "x2":{"datum":1.25},
    "y":{"datum":2.75,"scale":{"domain":[-0.25,2.75],"nice":false,"zero":false},
     "axis":{"title":null,"values":[-0.25,0.125,0.5,0.875,1.25,1.625,2,2.375,2.75],
      "labelExpr":"indexof([0.125,0.875,1.625,2.375],datum.value)>=0 ? format(datum.value,'.3f') : ''",
      "tickOpacity":{"condition":{"test":"indexof([0.125,0.875,1.625,2.375],datum.value)>=0","value":1},"value":0}}}}},
  {"data":{"values":[{}]},"mark":{"type":"rule","color":"#3c3c3c","strokeWidth":2.5},
   "encoding":{
    "x":{"datum":-0.063,"scale":{"domain":[0,1.25],"nice":false,"zero":false},
     "axis":{"title":null,"values":[0,0.125,0.25,0.375,0.5,0.625,0.75,0.875,1,1.125,1.25],"labels":false,"ticks":false,"domain":false,"grid":true}},
    "x2":{"datum":1.25},
    "y":{"datum":-0.25,"scale":{"domain":[-0.25,2.75],"nice":false,"zero":false},
     "axis":{"title":null,"values":[-0.25,0.125,0.5,0.875,1.25,1.625,2,2.375,2.75],
      "labelExpr":"indexof([0.125,0.875,1.625,2.375],datum.value)>=0 ? format(datum.value,'.3f') : ''",
      "tickOpacity":{"condition":{"test":"indexof([0.125,0.875,1.625,2.375],datum.value)>=0","value":1},"value":0}}}}},
  {"data":{"name":"notes"},"transform":[{"filter":"datum.p=='BL' && datum.k=='side'"}],
   "mark":{"type":"text","align":"left","baseline":"middle","font":"Liberation Serif","fontSize":14,"fontWeight":"bold","color":"#111"},
   "encoding":{
    "x":{"field":"t","type":"quantitative","scale":{"domain":[0,1.25],"nice":false,"zero":false},
     "axis":{"title":null,"values":[0,0.125,0.25,0.375,0.5,0.625,0.75,0.875,1,1.125,1.25],"labels":false,"ticks":false,"domain":false,"grid":true}},
    "y":{"field":"v","type":"quantitative","scale":{"domain":[-0.25,2.75],"nice":false,"zero":false},
     "axis":{"title":null,"values":[-0.25,0.125,0.5,0.875,1.25,1.625,2,2.375,2.75],
      "labelExpr":"indexof([0.125,0.875,1.625,2.375],datum.value)>=0 ? format(datum.value,'.3f') : ''",
      "tickOpacity":{"condition":{"test":"indexof([0.125,0.875,1.625,2.375],datum.value)>=0","value":1},"value":0}}},
    "text":{"field":"label"}}},
  {"data":{"name":"notes"},"transform":[{"filter":"datum.p=='BL' && datum.k=='note'"}],
   "mark":{"type":"text","align":"left","baseline":"middle","font":"Liberation Serif","fontSize":13,"color":"#222"},
   "encoding":{
    "x":{"field":"t","type":"quantitative","scale":{"domain":[0,1.25],"nice":false,"zero":false},
     "axis":{"title":null,"values":[0,0.125,0.25,0.375,0.5,0.625,0.75,0.875,1,1.125,1.25],"labels":false,"ticks":false,"domain":false,"grid":true}},
    "y":{"field":"v","type":"quantitative","scale":{"domain":[-0.25,2.75],"nice":false,"zero":false},
     "axis":{"title":null,"values":[-0.25,0.125,0.5,0.875,1.25,1.625,2,2.375,2.75],
      "labelExpr":"indexof([0.125,0.875,1.625,2.375],datum.value)>=0 ? format(datum.value,'.3f') : ''",
      "tickOpacity":{"condition":{"test":"indexof([0.125,0.875,1.625,2.375],datum.value)>=0","value":1},"value":0}}},
    "text":{"field":"label"}}}
 ]},
{"width":745,"height":79,
 "layer":[
  {"data":{"name":"blb"},"mark":{"type":"line","strokeWidth":1.3},
   "encoding":{
    "x":{"field":"t","type":"quantitative","scale":{"domain":[0,1.25],"nice":false,"zero":false},
     "axis":{"title":null,"values":[0,0.125,0.25,0.375,0.5,0.625,0.75,0.875,1,1.125,1.25],"labels":false,"ticks":false,"domain":false,"grid":true}},
    "y":{"field":"v","type":"quantitative","scale":{"domain":[-0.25,2.75],"nice":false,"zero":false},
     "axis":{"title":null,"values":[-0.25,0.125,0.5,0.875,1.25,1.625,2,2.375,2.75],
      "labelExpr":"indexof([0.125,0.875,1.625,2.375],datum.value)>=0 ? format(datum.value,'.3f') : ''",
      "tickOpacity":{"condition":{"test":"indexof([0.125,0.875,1.625,2.375],datum.value)>=0","value":1},"value":0}}},
    "color":{"field":"r","type":"nominal","legend":null},
    "detail":{"field":"w","type":"nominal"}}},
  {"data":{"values":[{}]},"mark":{"type":"rule","color":"#3c3c3c","strokeWidth":2.5},
   "encoding":{
    "x":{"datum":-0.063,"scale":{"domain":[0,1.25],"nice":false,"zero":false},
     "axis":{"title":null,"values":[0,0.125,0.25,0.375,0.5,0.625,0.75,0.875,1,1.125,1.25],"labels":false,"ticks":false,"domain":false,"grid":true}},
    "x2":{"datum":1.25},
    "y":{"datum":2.75,"scale":{"domain":[-0.25,2.75],"nice":false,"zero":false},
     "axis":{"title":null,"values":[-0.25,0.125,0.5,0.875,1.25,1.625,2,2.375,2.75],
      "labelExpr":"indexof([0.125,0.875,1.625,2.375],datum.value)>=0 ? format(datum.value,'.3f') : ''",
      "tickOpacity":{"condition":{"test":"indexof([0.125,0.875,1.625,2.375],datum.value)>=0","value":1},"value":0}}}}},
  {"data":{"values":[{}]},"mark":{"type":"rule","color":"#3c3c3c","strokeWidth":2.5},
   "encoding":{
    "x":{"datum":-0.063,"scale":{"domain":[0,1.25],"nice":false,"zero":false},
     "axis":{"title":null,"values":[0,0.125,0.25,0.375,0.5,0.625,0.75,0.875,1,1.125,1.25],"labels":false,"ticks":false,"domain":false,"grid":true}},
    "x2":{"datum":1.25},
    "y":{"datum":-0.25,"scale":{"domain":[-0.25,2.75],"nice":false,"zero":false},
     "axis":{"title":null,"values":[-0.25,0.125,0.5,0.875,1.25,1.625,2,2.375,2.75],
      "labelExpr":"indexof([0.125,0.875,1.625,2.375],datum.value)>=0 ? format(datum.value,'.3f') : ''",
      "tickOpacity":{"condition":{"test":"indexof([0.125,0.875,1.625,2.375],datum.value)>=0","value":1},"value":0}}}}},
  {"data":{"name":"notes"},"transform":[{"filter":"datum.p=='BLB' && datum.k=='side'"}],
   "mark":{"type":"text","align":"left","baseline":"middle","font":"Liberation Serif","fontSize":14,"fontWeight":"bold","color":"#111"},
   "encoding":{
    "x":{"field":"t","type":"quantitative","scale":{"domain":[0,1.25],"nice":false,"zero":false},
     "axis":{"title":null,"values":[0,0.125,0.25,0.375,0.5,0.625,0.75,0.875,1,1.125,1.25],"labels":false,"ticks":false,"domain":false,"grid":true}},
    "y":{"field":"v","type":"quantitative","scale":{"domain":[-0.25,2.75],"nice":false,"zero":false},
     "axis":{"title":null,"values":[-0.25,0.125,0.5,0.875,1.25,1.625,2,2.375,2.75],
      "labelExpr":"indexof([0.125,0.875,1.625,2.375],datum.value)>=0 ? format(datum.value,'.3f') : ''",
      "tickOpacity":{"condition":{"test":"indexof([0.125,0.875,1.625,2.375],datum.value)>=0","value":1},"value":0}}},
    "text":{"field":"label"}}},
  {"data":{"name":"notes"},"transform":[{"filter":"datum.p=='BLB' && datum.k=='note'"}],
   "mark":{"type":"text","align":"left","baseline":"middle","font":"Liberation Serif","fontSize":13,"color":"#222"},
   "encoding":{
    "x":{"field":"t","type":"quantitative","scale":{"domain":[0,1.25],"nice":false,"zero":false},
     "axis":{"title":null,"values":[0,0.125,0.25,0.375,0.5,0.625,0.75,0.875,1,1.125,1.25],"labels":false,"ticks":false,"domain":false,"grid":true}},
    "y":{"field":"v","type":"quantitative","scale":{"domain":[-0.25,2.75],"nice":false,"zero":false},
     "axis":{"title":null,"values":[-0.25,0.125,0.5,0.875,1.25,1.625,2,2.375,2.75],
      "labelExpr":"indexof([0.125,0.875,1.625,2.375],datum.value)>=0 ? format(datum.value,'.3f') : ''",
      "tickOpacity":{"condition":{"test":"indexof([0.125,0.875,1.625,2.375],datum.value)>=0","value":1},"value":0}}},
    "text":{"field":"label"}}}
 ]},
{"width":745,"height":79,
 "layer":[
  {"data":{"name":"out"},"mark":{"type":"line","strokeWidth":1,"interpolate":"monotone"},
   "encoding":{
    "x":{"field":"t","type":"quantitative","scale":{"domain":[0,1.25],"nice":false,"zero":false},
     "axis":{"title":null,"values":[0,0.125,0.25,0.375,0.5,0.625,0.75,0.875,1,1.125,1.25],"labels":false,"ticks":false,"domain":false,"grid":true}},
    "y":{"field":"v","type":"quantitative","scale":{"domain":[-0.1405,1.2955],"nice":false,"zero":false},
     "axis":{"title":null,"values":[-0.1405,0.03897,0.21847,0.39797,0.57747,0.75697,0.93647,1.11597,1.2955],
      "labelExpr":"datum.value==0.03897?'38.97m':datum.value==0.39797?'0.398':datum.value==0.75697?'0.757':datum.value==1.11597?'1.116':''",
      "tickOpacity":{"condition":{"test":"indexof([0.03897,0.39797,0.75697,1.11597],datum.value)>=0","value":1},"value":0}}},
    "color":{"field":"r","type":"nominal","legend":null},
    "detail":{"field":"w","type":"nominal"}}},
  {"data":{"values":[{}]},"mark":{"type":"rule","color":"#3c3c3c","strokeWidth":2.5},
   "encoding":{
    "x":{"datum":-0.063,"scale":{"domain":[0,1.25],"nice":false,"zero":false},
     "axis":{"title":null,"values":[0,0.125,0.25,0.375,0.5,0.625,0.75,0.875,1,1.125,1.25],"labels":false,"ticks":false,"domain":false,"grid":true}},
    "x2":{"datum":1.25},
    "y":{"datum":1.2955,"scale":{"domain":[-0.1405,1.2955],"nice":false,"zero":false},
     "axis":{"title":null,"values":[-0.1405,0.03897,0.21847,0.39797,0.57747,0.75697,0.93647,1.11597,1.2955],
      "labelExpr":"datum.value==0.03897?'38.97m':datum.value==0.39797?'0.398':datum.value==0.75697?'0.757':datum.value==1.11597?'1.116':''",
      "tickOpacity":{"condition":{"test":"indexof([0.03897,0.39797,0.75697,1.11597],datum.value)>=0","value":1},"value":0}}}}},
  {"data":{"values":[{}]},"mark":{"type":"rule","color":"#3c3c3c","strokeWidth":2.5},
   "encoding":{
    "x":{"datum":-0.063,"scale":{"domain":[0,1.25],"nice":false,"zero":false},
     "axis":{"title":null,"values":[0,0.125,0.25,0.375,0.5,0.625,0.75,0.875,1,1.125,1.25],"labels":false,"ticks":false,"domain":false,"grid":true}},
    "x2":{"datum":1.25},
    "y":{"datum":-0.1405,"scale":{"domain":[-0.1405,1.2955],"nice":false,"zero":false},
     "axis":{"title":null,"values":[-0.1405,0.03897,0.21847,0.39797,0.57747,0.75697,0.93647,1.11597,1.2955],
      "labelExpr":"datum.value==0.03897?'38.97m':datum.value==0.39797?'0.398':datum.value==0.75697?'0.757':datum.value==1.11597?'1.116':''",
      "tickOpacity":{"condition":{"test":"indexof([0.03897,0.39797,0.75697,1.11597],datum.value)>=0","value":1},"value":0}}}}},
  {"data":{"name":"notes"},"transform":[{"filter":"datum.p=='OUT' && datum.k=='side'"}],
   "mark":{"type":"text","align":"left","baseline":"middle","font":"Liberation Serif","fontSize":14,"fontWeight":"bold","color":"#111"},
   "encoding":{
    "x":{"field":"t","type":"quantitative","scale":{"domain":[0,1.25],"nice":false,"zero":false},
     "axis":{"title":null,"values":[0,0.125,0.25,0.375,0.5,0.625,0.75,0.875,1,1.125,1.25],"labels":false,"ticks":false,"domain":false,"grid":true}},
    "y":{"field":"v","type":"quantitative","scale":{"domain":[-0.1405,1.2955],"nice":false,"zero":false},
     "axis":{"title":null,"values":[-0.1405,0.03897,0.21847,0.39797,0.57747,0.75697,0.93647,1.11597,1.2955],
      "labelExpr":"datum.value==0.03897?'38.97m':datum.value==0.39797?'0.398':datum.value==0.75697?'0.757':datum.value==1.11597?'1.116':''",
      "tickOpacity":{"condition":{"test":"indexof([0.03897,0.39797,0.75697,1.11597],datum.value)>=0","value":1},"value":0}}},
    "text":{"field":"label"}}},
  {"data":{"name":"notes"},"transform":[{"filter":"datum.p=='OUT' && datum.k=='note'"}],
   "mark":{"type":"text","align":"left","baseline":"middle","font":"Liberation Serif","fontSize":13,"color":"#222"},
   "encoding":{
    "x":{"field":"t","type":"quantitative","scale":{"domain":[0,1.25],"nice":false,"zero":false},
     "axis":{"title":null,"values":[0,0.125,0.25,0.375,0.5,0.625,0.75,0.875,1,1.125,1.25],"labels":false,"ticks":false,"domain":false,"grid":true}},
    "y":{"field":"v","type":"quantitative","scale":{"domain":[-0.1405,1.2955],"nice":false,"zero":false},
     "axis":{"title":null,"values":[-0.1405,0.03897,0.21847,0.39797,0.57747,0.75697,0.93647,1.11597,1.2955],
      "labelExpr":"datum.value==0.03897?'38.97m':datum.value==0.39797?'0.398':datum.value==0.75697?'0.757':datum.value==1.11597?'1.116':''",
      "tickOpacity":{"condition":{"test":"indexof([0.03897,0.39797,0.75697,1.11597],datum.value)>=0","value":1},"value":0}}},
    "text":{"field":"label"}}},
  {"data":{"name":"notes"},"transform":[{"filter":"datum.k=='ring'"}],
   "mark":{"type":"point","shape":"M-0.78,0A0.78,1,0,1,0,0.78,0A0.78,1,0,1,0,-0.78,0Z","size":1296,"filled":false,"color":"#000000","strokeWidth":3,"opacity":1},
   "encoding":{
    "x":{"field":"t","type":"quantitative","scale":{"domain":[0,1.25],"nice":false,"zero":false},
     "axis":{"title":null,"values":[0,0.125,0.25,0.375,0.5,0.625,0.75,0.875,1,1.125,1.25],"labels":false,"ticks":false,"domain":false,"grid":true}},
    "y":{"field":"v","type":"quantitative","scale":{"domain":[-0.1405,1.2955],"nice":false,"zero":false},
     "axis":{"title":null,"values":[-0.1405,0.03897,0.21847,0.39797,0.57747,0.75697,0.93647,1.11597,1.2955],
      "labelExpr":"datum.value==0.03897?'38.97m':datum.value==0.39797?'0.398':datum.value==0.75697?'0.757':datum.value==1.11597?'1.116':''",
      "tickOpacity":{"condition":{"test":"indexof([0.03897,0.39797,0.75697,1.11597],datum.value)>=0","value":1},"value":0}}}}}
 ]},
{"width":745,"height":78,
 "layer":[
  {"data":{"name":"outb"},"mark":{"type":"line","strokeWidth":1,"interpolate":"monotone"},
   "encoding":{
    "x":{"field":"t","type":"quantitative","scale":{"domain":[0,1.25],"nice":false,"zero":false},
     "axis":{"orient":"bottom","title":null,"values":[0,0.025,0.05,0.075,0.1,0.125,0.15,0.175,0.2,0.225,0.25,0.275,0.3,0.325,0.35,0.375,0.4,0.425,0.45,0.475,0.5,0.525,0.55,0.575,0.6,0.625,0.65,0.675,0.7,0.725,0.75,0.775,0.8,0.825,0.85,0.875,0.9,0.925,0.95,0.975,1,1.025,1.05,1.075,1.1,1.125,1.15,1.175,1.2,1.225,1.25],
      "labelExpr":"abs(datum.value*4-round(datum.value*4))<0.001 ? (datum.value==0 ? '0.00' : toString(datum.value)+'n') : ''",
      "tickSize":3,"labelPadding":6,"domain":false,"grid":true,
      "gridOpacity":{"condition":{"test":"abs(datum.value*8-round(datum.value*8))<0.001","value":1},"value":0}}},
    "y":{"field":"v","type":"quantitative","scale":{"domain":[-0.15289,1.297317],"nice":false,"zero":false},
     "axis":{"title":null,"values":[-0.15289,0.028378,0.209655,0.390932,0.572209,0.753486,0.934763,1.11604,1.297317],
      "labelExpr":"datum.value==0.028378?'28.378m':datum.value==0.390932?'0.391':datum.value==0.753486?'0.753':datum.value==1.11604?'1.116':''",
      "tickOpacity":{"condition":{"test":"indexof([0.028378,0.390932,0.753486,1.11604],datum.value)>=0","value":1},"value":0}}},
    "color":{"field":"r","type":"nominal","legend":null},
    "detail":{"field":"w","type":"nominal"}}},
  {"data":{"values":[{}]},"mark":{"type":"rule","color":"#3c3c3c","strokeWidth":2.5},
   "encoding":{
    "x":{"datum":-0.063,"scale":{"domain":[0,1.25],"nice":false,"zero":false},
     "axis":{"orient":"bottom","title":null,"values":[0,0.025,0.05,0.075,0.1,0.125,0.15,0.175,0.2,0.225,0.25,0.275,0.3,0.325,0.35,0.375,0.4,0.425,0.45,0.475,0.5,0.525,0.55,0.575,0.6,0.625,0.65,0.675,0.7,0.725,0.75,0.775,0.8,0.825,0.85,0.875,0.9,0.925,0.95,0.975,1,1.025,1.05,1.075,1.1,1.125,1.15,1.175,1.2,1.225,1.25],
      "labelExpr":"abs(datum.value*4-round(datum.value*4))<0.001 ? (datum.value==0 ? '0.00' : toString(datum.value)+'n') : ''",
      "tickSize":3,"labelPadding":6,"domain":false,"grid":true,
      "gridOpacity":{"condition":{"test":"abs(datum.value*8-round(datum.value*8))<0.001","value":1},"value":0}}},
    "x2":{"datum":1.25},
    "y":{"datum":1.297317,"scale":{"domain":[-0.15289,1.297317],"nice":false,"zero":false},
     "axis":{"title":null,"values":[-0.15289,0.028378,0.209655,0.390932,0.572209,0.753486,0.934763,1.11604,1.297317],
      "labelExpr":"datum.value==0.028378?'28.378m':datum.value==0.390932?'0.391':datum.value==0.753486?'0.753':datum.value==1.11604?'1.116':''",
      "tickOpacity":{"condition":{"test":"indexof([0.028378,0.390932,0.753486,1.11604],datum.value)>=0","value":1},"value":0}}}}},
  {"data":{"values":[{}]},"mark":{"type":"rule","color":"#3c3c3c","strokeWidth":2.5},
   "encoding":{
    "x":{"datum":-0.063,"scale":{"domain":[0,1.25],"nice":false,"zero":false},
     "axis":{"orient":"bottom","title":null,"values":[0,0.025,0.05,0.075,0.1,0.125,0.15,0.175,0.2,0.225,0.25,0.275,0.3,0.325,0.35,0.375,0.4,0.425,0.45,0.475,0.5,0.525,0.55,0.575,0.6,0.625,0.65,0.675,0.7,0.725,0.75,0.775,0.8,0.825,0.85,0.875,0.9,0.925,0.95,0.975,1,1.025,1.05,1.075,1.1,1.125,1.15,1.175,1.2,1.225,1.25],
      "labelExpr":"abs(datum.value*4-round(datum.value*4))<0.001 ? (datum.value==0 ? '0.00' : toString(datum.value)+'n') : ''",
      "tickSize":3,"labelPadding":6,"domain":false,"grid":true,
      "gridOpacity":{"condition":{"test":"abs(datum.value*8-round(datum.value*8))<0.001","value":1},"value":0}}},
    "x2":{"datum":1.25},
    "y":{"datum":-0.15289,"scale":{"domain":[-0.15289,1.297317],"nice":false,"zero":false},
     "axis":{"title":null,"values":[-0.15289,0.028378,0.209655,0.390932,0.572209,0.753486,0.934763,1.11604,1.297317],
      "labelExpr":"datum.value==0.028378?'28.378m':datum.value==0.390932?'0.391':datum.value==0.753486?'0.753':datum.value==1.11604?'1.116':''",
      "tickOpacity":{"condition":{"test":"indexof([0.028378,0.390932,0.753486,1.11604],datum.value)>=0","value":1},"value":0}}}}},
  {"data":{"name":"notes"},"transform":[{"filter":"datum.p=='OUTB' && datum.k=='side'"}],
   "mark":{"type":"text","align":"left","baseline":"middle","font":"Liberation Serif","fontSize":14,"fontWeight":"bold","color":"#111"},
   "encoding":{
    "x":{"field":"t","type":"quantitative","scale":{"domain":[0,1.25],"nice":false,"zero":false},
     "axis":{"orient":"bottom","title":null,"values":[0,0.025,0.05,0.075,0.1,0.125,0.15,0.175,0.2,0.225,0.25,0.275,0.3,0.325,0.35,0.375,0.4,0.425,0.45,0.475,0.5,0.525,0.55,0.575,0.6,0.625,0.65,0.675,0.7,0.725,0.75,0.775,0.8,0.825,0.85,0.875,0.9,0.925,0.95,0.975,1,1.025,1.05,1.075,1.1,1.125,1.15,1.175,1.2,1.225,1.25],
      "labelExpr":"abs(datum.value*4-round(datum.value*4))<0.001 ? (datum.value==0 ? '0.00' : toString(datum.value)+'n') : ''",
      "tickSize":3,"labelPadding":6,"domain":false,"grid":true,
      "gridOpacity":{"condition":{"test":"abs(datum.value*8-round(datum.value*8))<0.001","value":1},"value":0}}},
    "y":{"field":"v","type":"quantitative","scale":{"domain":[-0.15289,1.297317],"nice":false,"zero":false},
     "axis":{"title":null,"values":[-0.15289,0.028378,0.209655,0.390932,0.572209,0.753486,0.934763,1.11604,1.297317],
      "labelExpr":"datum.value==0.028378?'28.378m':datum.value==0.390932?'0.391':datum.value==0.753486?'0.753':datum.value==1.11604?'1.116':''",
      "tickOpacity":{"condition":{"test":"indexof([0.028378,0.390932,0.753486,1.11604],datum.value)>=0","value":1},"value":0}}},
    "text":{"field":"label"}}},
  {"data":{"name":"notes"},"transform":[{"filter":"datum.p=='OUTB' && datum.k=='note'"}],
   "mark":{"type":"text","align":"left","baseline":"middle","font":"Liberation Serif","fontSize":13,"color":"#222"},
   "encoding":{
    "x":{"field":"t","type":"quantitative","scale":{"domain":[0,1.25],"nice":false,"zero":false},
     "axis":{"orient":"bottom","title":null,"values":[0,0.025,0.05,0.075,0.1,0.125,0.15,0.175,0.2,0.225,0.25,0.275,0.3,0.325,0.35,0.375,0.4,0.425,0.45,0.475,0.5,0.525,0.55,0.575,0.6,0.625,0.65,0.675,0.7,0.725,0.75,0.775,0.8,0.825,0.85,0.875,0.9,0.925,0.95,0.975,1,1.025,1.05,1.075,1.1,1.125,1.15,1.175,1.2,1.225,1.25],
      "labelExpr":"abs(datum.value*4-round(datum.value*4))<0.001 ? (datum.value==0 ? '0.00' : toString(datum.value)+'n') : ''",
      "tickSize":3,"labelPadding":6,"domain":false,"grid":true,
      "gridOpacity":{"condition":{"test":"abs(datum.value*8-round(datum.value*8))<0.001","value":1},"value":0}}},
    "y":{"field":"v","type":"quantitative","scale":{"domain":[-0.15289,1.297317],"nice":false,"zero":false},
     "axis":{"title":null,"values":[-0.15289,0.028378,0.209655,0.390932,0.572209,0.753486,0.934763,1.11604,1.297317],
      "labelExpr":"datum.value==0.028378?'28.378m':datum.value==0.390932?'0.391':datum.value==0.753486?'0.753':datum.value==1.11604?'1.116':''",
      "tickOpacity":{"condition":{"test":"indexof([0.028378,0.390932,0.753486,1.11604],datum.value)>=0","value":1},"value":0}}},
    "text":{"field":"label"}}}
 ]}
]
}
